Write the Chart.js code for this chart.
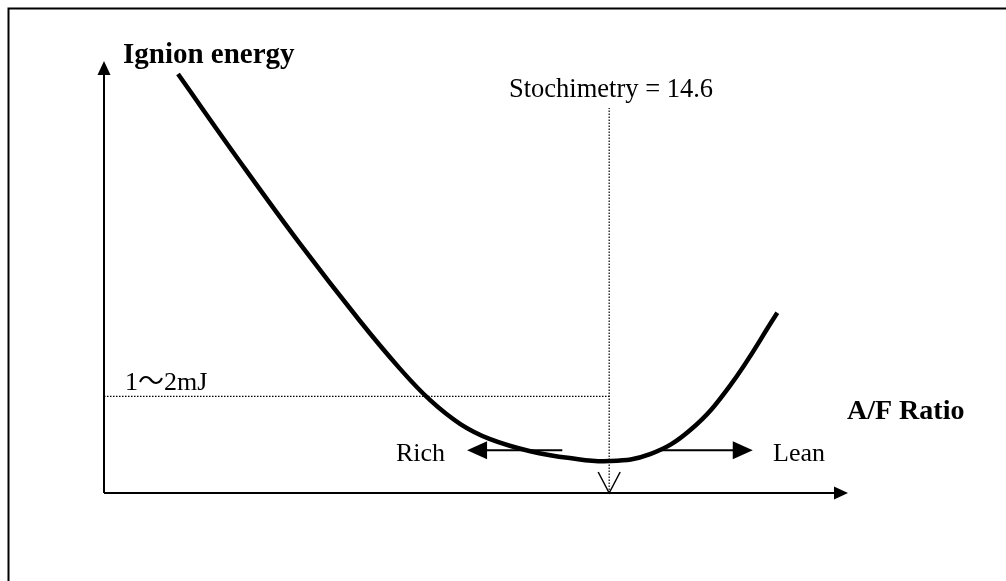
<!DOCTYPE html>
<html>
<head>
<meta charset="utf-8">
<script src="https://cdn.jsdelivr.net/npm/chart.js@4"></script>
<style>
  body { margin: 0; background: #fff; }
  #wrap { width: 1006px; height: 581px; position: relative; }
</style>
</head>
<body>
<div id="wrap"><canvas id="myChart"></canvas></div>
<script>
// curve (abstract units, 0-100 on both axes)
const afRatio = [9.95, 18.3, 26.3, 34.4, 39.8, 43.8, 47.9, 51.9, 57.3, 62.6, 67.9, 73.4, 78.8, 84.1, 90.5];
const ignitionEnergy = [97.2, 76.8, 57.9, 39.9, 28.8, 21.6, 16.0, 12.5, 9.7, 8.1, 7.4, 9.0, 14.6, 24.8, 41.8];

const stoichX = 67.9;        // Stochimetry = 14.6
const stoichTop = 89.3;
const mJLevel = 22.4;        // 1~2mJ
const richArrow = [61.6, 48.8];  // from -> tip (x)
const leanArrow = [74.7, 87.2];
const arrowY = 9.9;

const serif = '"Liberation Serif", "Times New Roman", "Noto Sans CJK JP", serif';

function arrowHead(ctx, tipX, tipY, dx, dy, len, half) {
  // dx,dy = unit direction of the arrow
  const bx = tipX - dx * len, by = tipY - dy * len;
  ctx.beginPath();
  ctx.moveTo(tipX, tipY);
  ctx.lineTo(bx - dy * half, by + dx * half);
  ctx.lineTo(bx + dy * half, by - dx * half);
  ctx.closePath();
  ctx.fill();
}

const decorations = {
  id: "decorations",
  beforeDatasetsDraw(chart) {
    const ctx = chart.ctx;
    const xs = chart.scales.x, ys = chart.scales.y;
    const x0 = xs.getPixelForValue(0), x1 = xs.getPixelForValue(100);
    const y0 = ys.getPixelForValue(0), y1 = ys.getPixelForValue(100);
    ctx.save();
    ctx.strokeStyle = "#000";
    ctx.fillStyle = "#000";

    // frame (runs off right/bottom)
    ctx.lineWidth = 2;
    ctx.strokeRect(8.5, 8.5, 1100, 700);

    // axes
    ctx.beginPath();
    ctx.moveTo(x0, y0);
    ctx.lineTo(x0, y1 + 10);
    ctx.moveTo(x0, y0);
    ctx.lineTo(x1 - 10, y0);
    ctx.stroke();
    arrowHead(ctx, x0, y1 - 1, 0, -1, 14, 6.5);
    arrowHead(ctx, x1, y0, 1, 0, 14, 6.5);

    // rich / lean arrows
    const ay = ys.getPixelForValue(arrowY);
    ctx.lineWidth = 2;
    ctx.beginPath();
    ctx.moveTo(xs.getPixelForValue(richArrow[0]), ay);
    ctx.lineTo(xs.getPixelForValue(richArrow[1]) + 15, ay);
    ctx.moveTo(xs.getPixelForValue(leanArrow[0]), ay);
    ctx.lineTo(xs.getPixelForValue(leanArrow[1]) - 15, ay);
    ctx.stroke();
    arrowHead(ctx, xs.getPixelForValue(richArrow[1]), ay, -1, 0, 20, 9);
    arrowHead(ctx, xs.getPixelForValue(leanArrow[1]), ay, 1, 0, 20, 9);

    // open "V" at foot of stoichiometry line
    const sx = xs.getPixelForValue(stoichX);
    ctx.lineWidth = 1.5;
    ctx.beginPath();
    ctx.moveTo(sx - 11, y0 - 21);
    ctx.lineTo(sx, y0);
    ctx.lineTo(sx + 11, y0 - 21);
    ctx.stroke();

    // text
    ctx.textBaseline = "alphabetic";
    ctx.textAlign = "left";
    ctx.font = "bold 29px " + serif;
    ctx.fillText("Ignion energy", 123, 63);
    ctx.font = "bold 28px " + serif;
    ctx.fillText("A/F Ratio", 847, 419);
    ctx.font = "26.5px " + serif;
    ctx.fillText("Stochimetry = 14.6", 509, 97);
    ctx.font = "26px " + serif;
    ctx.fillText("1～2mJ", 125, 390);
    ctx.fillText("Rich", 396, 461);
    ctx.fillText("Lean", 773, 461);
    ctx.restore();
  }
};

const ctx = document.getElementById("myChart").getContext("2d");
new Chart(ctx, {
  type: "scatter",
  data: {
    datasets: [
      {
        label: "Ignition energy",
        data: afRatio.map((x, i) => ({ x: x, y: ignitionEnergy[i] })),
        showLine: true,
        borderColor: "#000",
        borderWidth: 4.5,
        pointRadius: 0,
        tension: 0.4,
        clip: false,
      },
      {
        label: "Stoichiometry",
        data: [{ x: stoichX, y: 0 }, { x: stoichX, y: stoichTop }],
        showLine: true,
        borderColor: "#000",
        borderWidth: 1.2,
        borderDash: [1.5, 1.5],
        pointRadius: 0,
        clip: false,
      },
      {
        label: "1~2mJ",
        data: [{ x: 0, y: mJLevel }, { x: stoichX, y: mJLevel }],
        showLine: true,
        borderColor: "#000",
        borderWidth: 1.2,
        borderDash: [1.5, 1.5],
        pointRadius: 0,
        clip: false,
      },
    ],
  },
  options: {
    responsive: true,
    maintainAspectRatio: false,
    animation: false,
    layout: { padding: { left: 104, right: 158, top: 62, bottom: 88 } },
    scales: {
      x: { type: "linear", min: 0, max: 100, display: false },
      y: { type: "linear", min: 0, max: 100, display: false },
    },
    plugins: {
      legend: { display: false },
      tooltip: { enabled: false },
    },
  },
  plugins: [decorations],
});
</script>
</body>
</html>
